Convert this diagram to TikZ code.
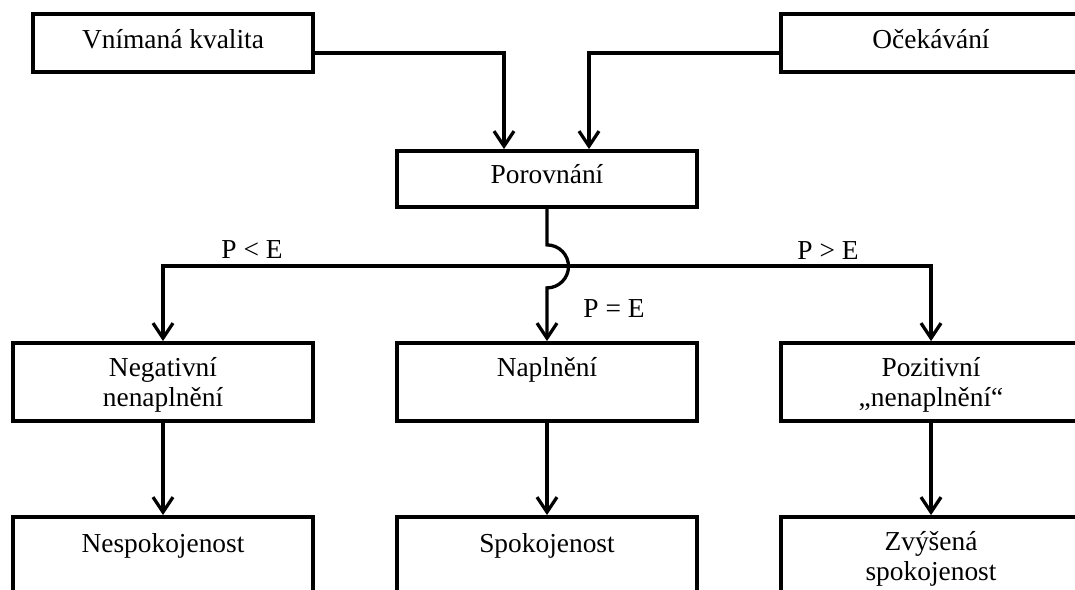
\documentclass[tikz,border=0pt]{standalone}
\usepackage{fontspec}
\setmainfont{Liberation Serif}
\usetikzlibrary{arrows.meta}
\tikzset{
  boxnode/.style={draw=black, line width=1.9pt, rectangle, inner sep=0pt, minimum width=150pt},
  txt/.style={inner sep=0pt, align=center, font=\fontsize{13.7pt}{15pt}\selectfont},
  conn/.style={draw=black, line width=1.65pt},
  tip/.style={-{Straight Barb[length=7.5pt,width=10pt,line width=1.65pt]}}
}
\begin{document}
\begin{tikzpicture}[x=0.5pt,y=-0.5pt]
\useasboundingbox (0,0) rectangle (1075,589);
\clip (0,0) rectangle (1075,589);
\fill[white] (0,0) rectangle (1075,589);
% boxes
\node[boxnode, minimum width=140pt, minimum height=29pt] (vk) at (173,43) {};
\node[boxnode, minimum height=29pt] (oc) at (931,43) {};
\node[boxnode, minimum height=28pt] (por) at (547,179) {};
\node[boxnode, minimum height=39pt] (neg) at (163,382) {};
\node[boxnode, minimum height=39pt] (nap) at (547,382) {};
\node[boxnode, minimum height=39pt] (pos) at (931,382) {};
\node[boxnode, minimum height=39pt] (nesp) at (163,556) {};
\node[boxnode, minimum height=39pt] (spok) at (547,556) {};
\node[boxnode, minimum height=39pt] (zvys) at (931,556) {};
% texts
\node[txt, anchor=base] (tvk) at (173,48) {Vnímaná kvalita};
\node[txt, anchor=base] (toc) at (931,48) {Očekávání};
\node[txt, anchor=base] (tpor) at (547,183) {Porovnání};
\node[txt] (tneg) at (163,385) {Negativní\\nenaplnění};
\node[txt, anchor=base] (tnap) at (547,376) {Naplnění};
\node[txt] (tpos) at (931,385) {Pozitivní\\„nenaplnění“};
\node[txt, anchor=base] (tnesp) at (163,552) {Nespokojenost};
\node[txt, anchor=base] (tspok) at (547,552) {Spokojenost};
\node[txt] (tzvys) at (931,559) {Zvýšená\\spokojenost};
% labels
\node[txt] (lpe) at (252,250) {P < E};
\node[txt] (lpg) at (828,251) {P > E};
\node[txt] (lpq) at (614,309) {P = E};
% connectors
\coordinate (hl) at (0,266);
\draw[conn, tip] ([yshift=-5pt]vk.east) -| ([xshift=-21.5pt]por.north);
\draw[conn, tip] ([yshift=-5pt]oc.west) -| ([xshift=21pt]por.north);
\draw[conn, tip] (por.south) -- ++(0,36) arc(-90:90:21.5) -- (nap.north);
\draw[conn, tip] (pos.north |- hl) -- (neg.north |- hl) -- (neg.north);
\draw[conn, tip] (neg.north |- hl) -- (pos.north |- hl) -- (pos.north);
\draw[conn, tip] (neg) -- (nesp);
\draw[conn, tip] (nap) -- (spok);
\draw[conn, tip] (pos) -- (zvys);
\end{tikzpicture}
\end{document}
